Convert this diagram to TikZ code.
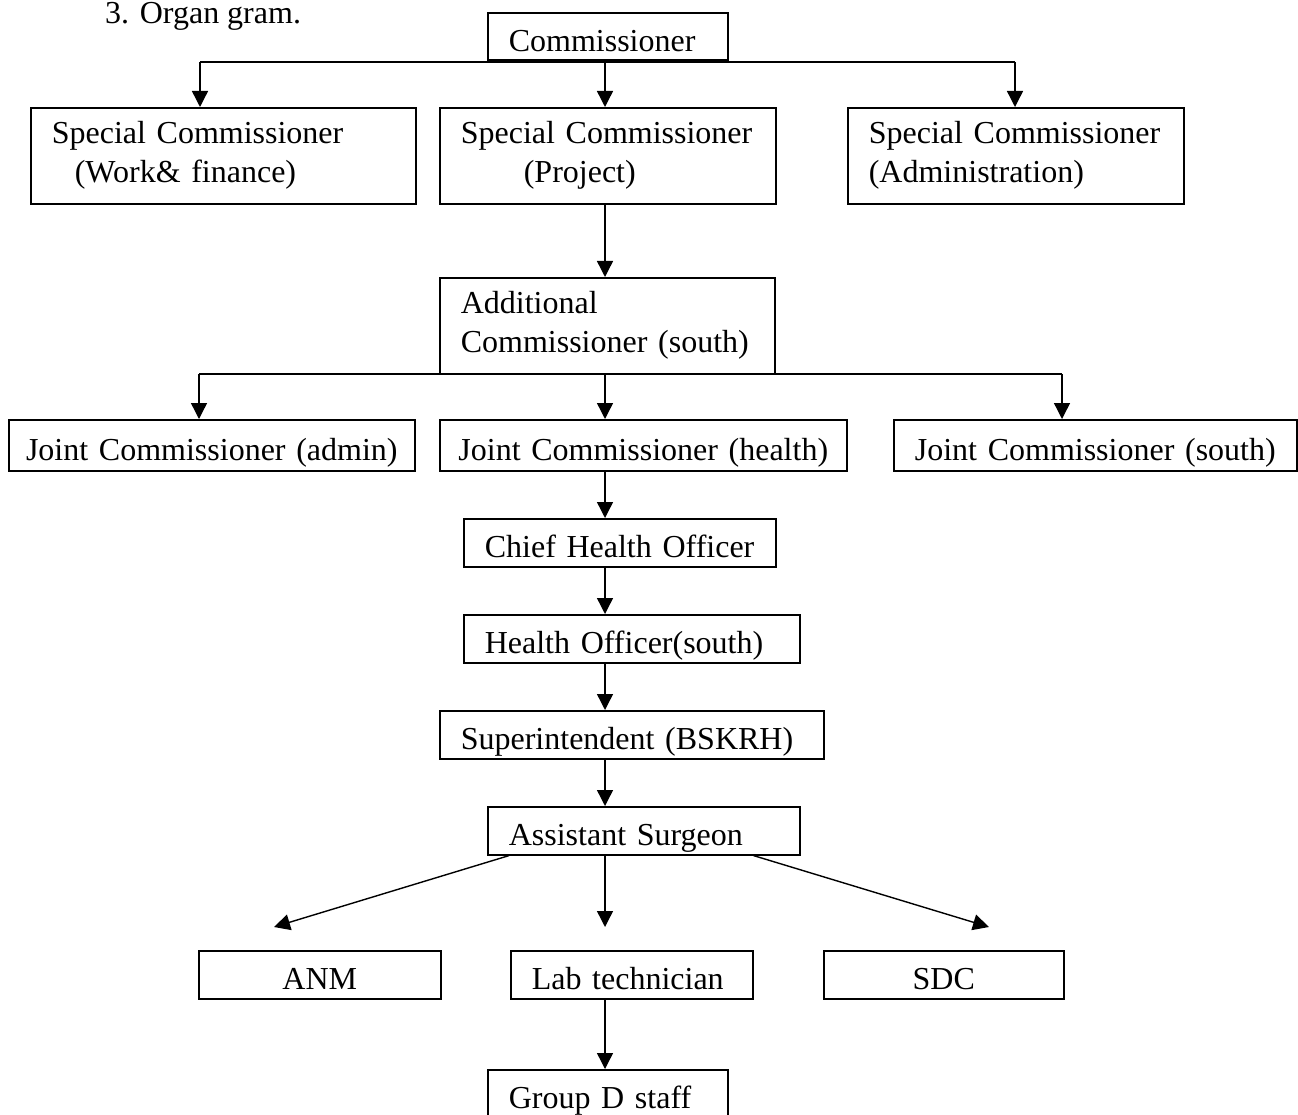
\documentclass[tikz,border=0pt]{standalone}
\usepackage{fontspec}
\setmainfont{Liberation Serif}
\usetikzlibrary{arrows.meta}
\tikzstyle{post}=[draw,line width=1.6pt,anchor=north west,inner xsep=21pt,inner ysep=0pt,align=left]
\tikzstyle{oneline}=[text height=30pt,text depth=0pt,minimum height=48pt]
\tikzstyle{mid}=[inner xsep=10pt,align=center]
\tikzstyle{link}=[line width=1.4pt,-{Triangle[length=16pt,width=16pt]}]
\tikzstyle{bus}=[line width=1.4pt]

\begin{document}
\begin{tikzpicture}[x=1pt,y=-1pt,font=\fontsize{32}{39}\selectfont]
    \clip (0,0) rectangle (1298,1115);
    \node[anchor=base west,inner sep=0pt] (title) at (105,24) {3. Organ gram.};
    % boxes
    \node[post,oneline,text width=198pt,minimum height=47pt] (comm) at (487,12) {Commissioner};
    \node[post,text width=343pt,minimum height=96pt] (sc1) at (30,107) {Special Commissioner\\\hspace*{23pt}(Work\& finance)};
    \node[post,text width=294pt,minimum height=96pt] (sc2) at (439,107) {Special Commissioner\\\hspace*{63pt}(Project)};
    \node[post,text width=294pt,minimum height=96pt] (sc3) at (847,107) {Special Commissioner\\(Administration)};
    \node[post,text width=293pt,minimum height=96pt] (addl) at (439,277) {Additional\\Commissioner (south)};
    \node[post,oneline,mid,text width=386pt,minimum height=51pt] (j1) at (8,419) {Joint Commissioner (admin)};
    \node[post,oneline,mid,text width=387pt,minimum height=51pt] (j2) at (439,419) {Joint Commissioner (health)};
    \node[post,oneline,mid,text width=383pt,minimum height=51pt] (j3) at (893,419) {Joint Commissioner (south)};
    \node[post,oneline,text width=270pt] (chief) at (463,518) {Chief Health Officer};
    \node[post,oneline,text width=294pt] (hlth) at (463,614) {Health Officer(south)};
    \node[post,oneline,text width=342pt] (supt) at (439,710) {Superintendent (BSKRH)};
    \node[post,oneline,text width=270pt] (asst) at (487,806) {Assistant Surgeon};
    \node[post,oneline,mid,text width=222pt] (anm) at (198,950) {ANM};
    \node[post,oneline,text width=200pt] (lab) at (510,950) {Lab technician};
    \node[post,oneline,mid,text width=220pt] (sdc) at (823,950) {SDC};
    \node[post,oneline,text width=198pt] (grpd) at (487,1069) {Group D staff};
    % connectors
    \coordinate (axis) at (605,0);
    \coordinate (busl) at (200,62);
    \coordinate (busr) at (1015,62);
    \draw[bus] (busl) -- (busr);
    \draw[link] (busl) -- (busl |- sc1.north);
    \draw[link] (busr) -- (busr |- sc3.north);
    \draw[link] (comm.south -| axis) -- (sc2.north -| axis);
    \draw[link] (sc2.south -| axis) -- (addl.north -| axis);
    \coordinate (bus2l) at (199,374);
    \coordinate (bus2r) at (1062,374);
    \draw[bus] (bus2l) -- (bus2r);
    \draw[link] (bus2l) -- (bus2l |- j1.north);
    \draw[link] (bus2r) -- (bus2r |- j3.north);
    \foreach \a/\b in {addl/j2, j2/chief, chief/hlth, hlth/supt, supt/asst, lab/grpd}
        \draw[link] (\a.south -| axis) -- (\b.north -| axis);
    \coordinate (anmtip) at (274,927);
    \coordinate (labtip) at (605,927);
    \coordinate (sdctip) at (989,927);
    \draw[link] ([xshift=22pt]asst.south west) -- (anmtip);
    \draw[link] (asst.south -| axis) -- (labtip);
    \draw[link] ([xshift=-47pt]asst.south east) -- (sdctip);
\end{tikzpicture}
\end{document}
